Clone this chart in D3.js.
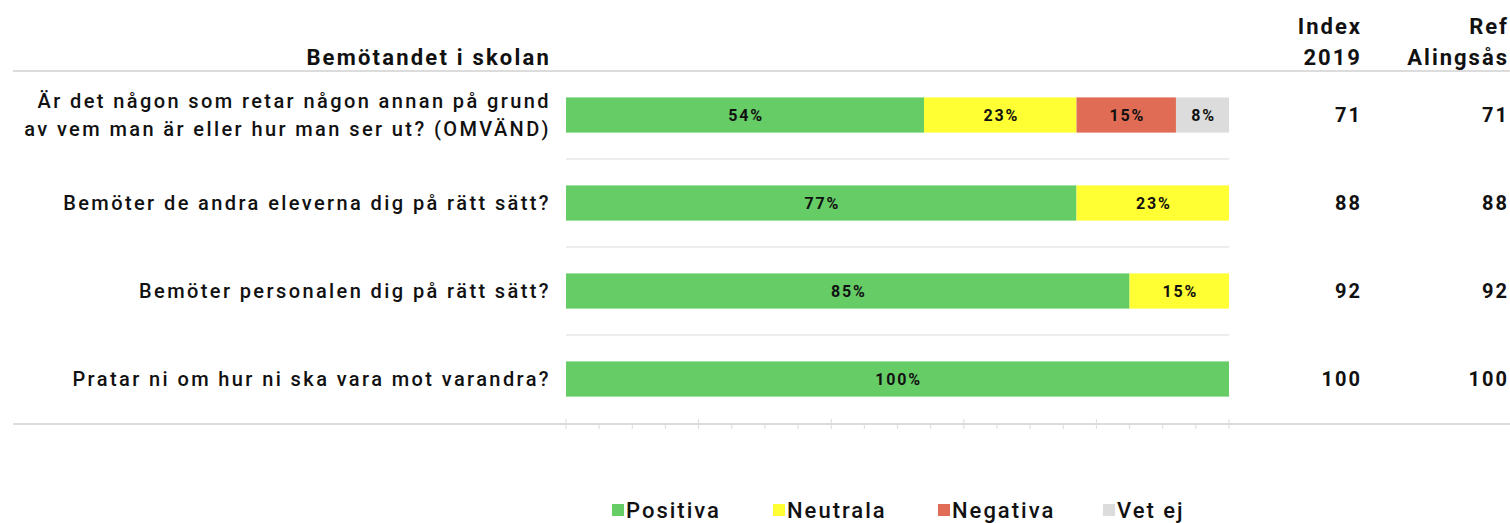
<!DOCTYPE html>
<html>
<head>
<meta charset="utf-8">
<script src="https://cdn.jsdelivr.net/npm/d3@7"></script>
<style>
  body { margin: 0; background: #fff; }
  svg { display: block; }
  text { font-family: Roboto, "Liberation Sans", sans-serif; fill: #111; }
</style>
</head>
<body>
<div id="chart"></div>
<script>
// questions (label lines) and answer shares in %
const questions = [
  ["Är det någon som retar någon annan på grund", "av vem man är eller hur man ser ut? (OMVÄND)"],
  ["Bemöter de andra eleverna dig på rätt sätt?"],
  ["Bemöter personalen dig på rätt sätt?"],
  ["Pratar ni om hur ni ska vara mot varandra?"]
];
const positiva = [54, 77, 85, 100];
const neutrala = [23, 23, 15, 0];
const negativa = [15, 0, 0, 0];
const vetEj    = [8, 0, 0, 0];
const index2019 = [71, 88, 92, 100];
const refAlingsas = [71, 88, 92, 100];

const SERIES = [
  { name: "Positiva", values: positiva, color: "#66cc66" },
  { name: "Neutrala", values: neutrala, color: "#ffff33" },
  { name: "Negativa", values: negativa, color: "#e06c55" },
  { name: "Vet ej",   values: vetEj,    color: "#dcdcdc" }
];

const width = 1510, height = 523;
const svg = d3.select("#chart").append("svg")
  .attr("width", width)
  .attr("height", height);

const x = d3.scaleLinear().domain([0, 100]).range([566, 1229]);
const y = d3.scaleBand()
  .domain(d3.range(questions.length))
  .range([71, 423])
  .paddingInner(0.6)
  .paddingOuter(0.3);

const lineColor = "#dcdcdc";

// header line + bottom axis line (full width)
svg.append("line")
  .attr("x1", 13).attr("x2", width)
  .attr("y1", 71).attr("y2", 71)
  .attr("stroke", lineColor).attr("stroke-width", 2);

svg.append("line")
  .attr("x1", 13).attr("x2", width)
  .attr("y1", 424).attr("y2", 424)
  .attr("stroke", lineColor).attr("stroke-width", 2);

// row separators between bars
d3.range(1, questions.length).forEach(i => {
  const yy = y(i) - y.step() * y.paddingInner() / 2;
  svg.append("line")
    .attr("x1", x(0)).attr("x2", x(100))
    .attr("y1", yy).attr("y2", yy)
    .attr("stroke", lineColor).attr("stroke-width", 1.2);
});

// ticks: minor every 5, major every 20
svg.append("g").selectAll("line")
  .data(d3.range(0, 101, 5))
  .join("line")
  .attr("x1", d => x(d)).attr("x2", d => x(d))
  .attr("y1", d => d % 20 === 0 ? 419 : 424)
  .attr("y2", 429)
  .attr("stroke", lineColor).attr("stroke-width", 1);

// title + column headers (x nudged by letter-spacing so the last glyph ends on the edge)
svg.append("text")
  .attr("x", 551).attr("y", 65)
  .attr("text-anchor", "end")
  .attr("font-size", 22).attr("font-weight", 700)
  .style("letter-spacing", "2.2px")
  .text("Bemötandet i skolan");

[["Index", "2019", 1362], ["Ref", "Alingsås", 1509]].forEach(([a, b, xx]) => {
  const t = svg.append("text")
    .attr("text-anchor", "end")
    .attr("font-size", 22).attr("font-weight", 700)
    .style("letter-spacing", "2px");
  t.append("tspan").attr("x", xx).attr("y", 34).text(a);
  t.append("tspan").attr("x", xx).attr("y", 65).text(b);
});

// stacked bars
const rows = questions.map((q, i) => {
  let x0 = 0;
  return SERIES.map(s => {
    const seg = { row: i, x0, v: s.values[i], color: s.color };
    x0 += s.values[i];
    return seg;
  }).filter(d => d.v > 0);
}).flat();

const bars = svg.append("g");
bars.selectAll("rect")
  .data(rows)
  .join("rect")
  .attr("x", d => x(d.x0))
  .attr("y", d => y(d.row))
  .attr("width", d => x(d.x0 + d.v) - x(d.x0))
  .attr("height", y.bandwidth())
  .attr("fill", d => d.color);

bars.selectAll("text")
  .data(rows)
  .join("text")
  .attr("x", d => x(d.x0 + d.v / 2) + 1)
  .attr("y", d => y(d.row) + y.bandwidth() / 2)
  .attr("dy", "0.36em")
  .attr("text-anchor", "middle")
  .attr("font-size", 16).attr("font-weight", 700)
  .style("letter-spacing", "1.8px")
  .text(d => d.v + "%");

// question labels
questions.forEach((lines, i) => {
  const cy = y(i) + y.bandwidth() / 2;
  const t = svg.append("text")
    .attr("text-anchor", "end")
    .attr("font-size", 20).attr("font-weight", 500)
    .style("letter-spacing", "2.4px");
  lines.forEach((ln, j) => {
    t.append("tspan")
      .attr("x", 551)
      .attr("y", cy + (j - (lines.length - 1) / 2) * 28)
      .attr("dy", "0.36em")
      .text(ln);
  });
});

// index columns
[[index2019, 1362], [refAlingsas, 1509]].forEach(([vals, xx]) => {
  svg.append("g").selectAll("text")
    .data(vals)
    .join("text")
    .attr("x", xx)
    .attr("y", (d, i) => y(i) + y.bandwidth() / 2)
    .attr("dy", "0.36em")
    .attr("text-anchor", "end")
    .attr("font-size", 20).attr("font-weight", 700)
    .style("letter-spacing", "2px")
    .text(d => d);
});

// legend
const legendX = [612, 773, 938, 1103];
const legend = svg.append("g");
SERIES.forEach((s, i) => {
  legend.append("rect")
    .attr("x", legendX[i]).attr("y", 504)
    .attr("width", 12).attr("height", 12)
    .attr("fill", s.color);
  legend.append("text")
    .attr("x", legendX[i] + 14).attr("y", 518)
    .attr("font-size", 22).attr("font-weight", 500)
    .style("letter-spacing", "2px")
    .text(s.name);
});
</script>
</body>
</html>
